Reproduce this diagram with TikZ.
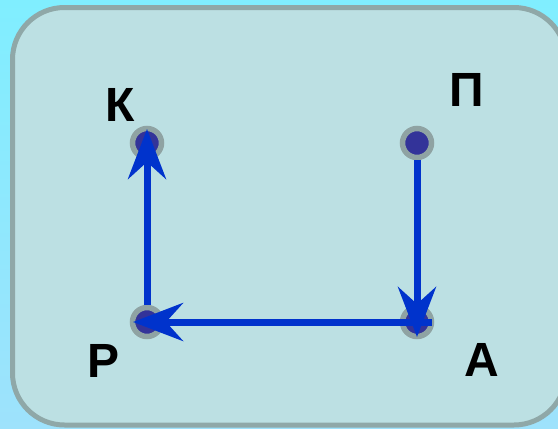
\documentclass[tikz,border=0pt]{standalone}
\usepackage{fontspec}
\setmainfont{Liberation Sans}
\usetikzlibrary{arrows.meta}
\definecolor{bgtop}{HTML}{80EEFF}
\definecolor{bgbot}{HTML}{9EE2FC}
\definecolor{panel}{HTML}{BCE0E3}
\definecolor{rim}{HTML}{8FA8A8}
\definecolor{ring}{HTML}{8FA3A3}
\definecolor{dotblue}{HTML}{333399}
\definecolor{arrblue}{HTML}{0033CC}
\tikzset{
  pt/.style={circle, fill=dotblue, draw=ring, line width=5.5pt, minimum size=29pt, inner sep=0pt},
  lbl/.style={font=\fontsize{48}{48}\selectfont\bfseries, text=black, inner sep=0pt},
  arr/.style={draw=arrblue, line width=7pt, -{Stealth[length=50pt,width=38pt,inset=17pt]}},
}
\begin{document}
\begin{tikzpicture}[x=1pt,y=-1pt]
\useasboundingbox (0,0) rectangle (558,429);
\shade[top color=bgtop, bottom color=bgbot] (0,0) rectangle (558,429);
\draw[rim, fill=panel, line width=5pt, rounded corners=52pt] (12.5,7.5) rectangle (566,425);
\node[pt] (K) at (147,143) {};
\node[pt] (Pi) at (417,143) {};
\node[pt] (A) at (417,322) {};
\node[pt] (R) at (147,322) {};
\node[lbl] (lK) at (120,105) {К};
\node[lbl] (lPi) at (467,90) {П};
\node[lbl] (lR) at (104,361) {Р};
\node[lbl] (lA) at (482,360) {А};
\draw[arr] ([yshift=-17pt]Pi.center) -- ([yshift=-15pt]A.center);
\draw[arr] ([xshift=15pt]A.center) -- ([xshift=-14pt]R.center);
\draw[arr] ([yshift=17pt]R.center) -- ([yshift=14pt]K.center);
\end{tikzpicture}
\end{document}
